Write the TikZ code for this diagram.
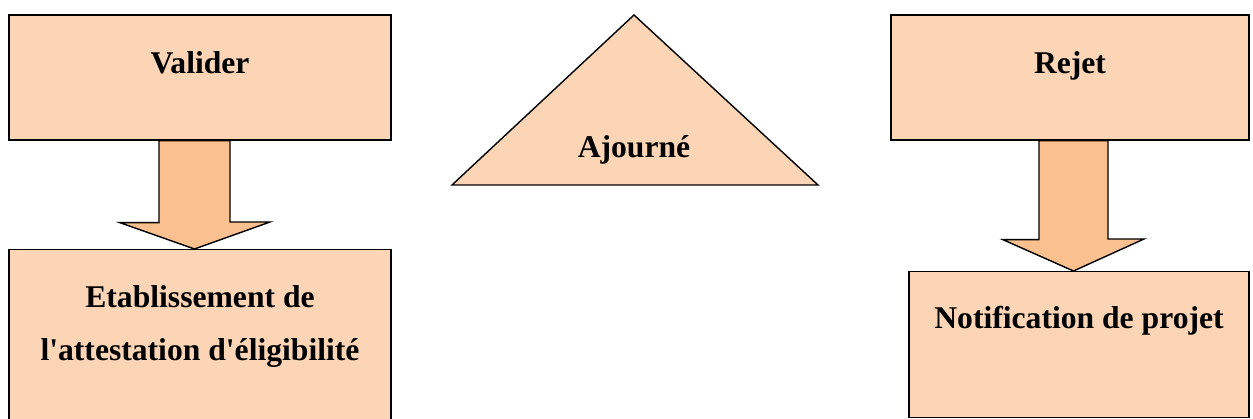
\documentclass[tikz,border=0pt]{standalone}
\usepackage{fontspec}
\setmainfont{Liberation Serif}
\usepackage{xcolor}
\usepackage{tikz}
\usetikzlibrary{arrows.meta,positioning,calc}

\definecolor{peach}{HTML}{FBD5B5}
\definecolor{peachdark}{HTML}{FAC090}

\begin{document}
\begin{tikzpicture}[
    box_node/.style={rectangle, draw=black, fill=peach, line width=0.8pt, inner sep=0pt},
    txt_lbl/.style={font=\fontsize{18}{22}\selectfont\bfseries, align=center, inner sep=0pt},
    block_arr/.style={draw=black, fill=peachdark, line width=0.8pt, line join=miter}
]
    \useasboundingbox (0,0) rectangle (25.06,8.38);

    % Boxes
    \node[box_node, minimum width=7.64cm, minimum height=2.5cm] (valider) at (4.0,6.83) {};
    \node[box_node, minimum width=7.64cm, minimum height=3.6cm, anchor=north] (etab) at (4.0,3.40) {};
    \node[box_node, minimum width=7.16cm, minimum height=2.5cm] (rejet) at (21.4,6.83) {};
    \node[box_node, minimum width=6.8cm, minimum height=2.92cm, anchor=north] (notif) at (21.58,2.96) {};

    % Triangle
    \coordinate (apex) at (12.68,8.08);
    \coordinate (baseL) at (9.04,4.68);
    \coordinate (baseR) at (16.36,4.68);
    \draw[fill=peach, line width=0.8pt, line join=miter] (apex) -- (baseR) -- (baseL) -- cycle;

    % Labels
    \node[txt_lbl] (t_valider) at (4.0,7.12) {Valider};
    \node[txt_lbl] (t_etab1) at (4.0,2.44) {Etablissement de};
    \node[txt_lbl] (t_etab2) at (4.0,1.32) {l\textquotesingle attestation d\textquotesingle éligibilité};
    \node[txt_lbl] (t_ajourne) at (12.68,5.38) {Ajourné};
    \node[txt_lbl] (t_rejet) at (21.4,7.06) {Rejet};
    \node[txt_lbl] (t_notif) at (21.58,1.96) {Notification de projet};

    % Block arrows
    \coordinate (ltip) at ($(etab.north)+(-0.11,0)$);
    \draw[block_arr] ($(valider.south)+(-0.82,0)$) -- ++(0,-1.64) -- ++(-0.78,0)
        -- (ltip) -- ($(ltip)+(1.51,0.54)$) -- ++(-0.8,0)
        -- ($(valider.south)+(0.6,0)$) -- cycle;
    \coordinate (rtip) at ($(notif.north)+(-0.11,0)$);
    \draw[block_arr] ($(rejet.south)+(-0.62,0)$) -- ++(0,-1.98) -- ++(-0.72,0)
        -- (rtip) -- ($(rtip)+(1.41,0.64)$) -- ++(-0.72,0)
        -- ($(rejet.south)+(0.76,0)$) -- cycle;
\end{tikzpicture}
\end{document}
